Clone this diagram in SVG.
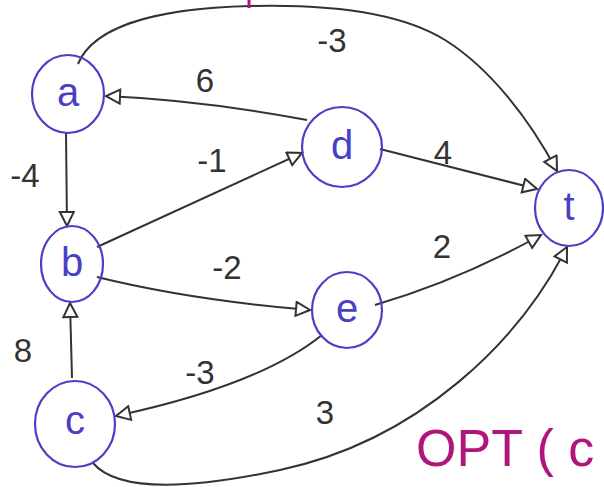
<svg xmlns="http://www.w3.org/2000/svg" width="604" height="487" viewBox="0 0 604 487">
<style>
.node ellipse{fill:none;stroke:#4b3fc4;stroke-width:2.2}
.node text{font-family:"Liberation Sans",sans-serif;font-size:40px;fill:#4b3fc4;text-anchor:middle;dominant-baseline:central}
.edge{fill:none;stroke:#333;stroke-width:2;marker-end:url(#arr)}
.lbl{font-family:"Liberation Sans",sans-serif;font-size:33px;fill:#333;text-anchor:middle;dominant-baseline:central}
.mag{font-family:"Liberation Sans",sans-serif;font-size:52px;fill:#b0157c}
</style>
<defs>
<marker id="arr" markerUnits="userSpaceOnUse" markerWidth="20" markerHeight="20" refX="16" refY="8" orient="auto">
<path d="M2,1 L16,8 L2,15 Z" fill="#fff" stroke="#333" stroke-width="2"/>
</marker>
</defs>
<rect width="604" height="487" fill="#fff"/>
<g id="connectors">
<path class="edge" d="M66,133 L67,226"/>
<path class="edge" d="M307,120 Q200,100 106,96"/>
<path class="edge" d="M78,64 C95,22 170,8 250,6 S400,12 445,40 S530,120 557,171"/>
<path class="edge" d="M97,247 L302,153"/>
<path class="edge" d="M380,149 L537,189"/>
<path class="edge" d="M97,277 Q190,300 310,310"/>
<path class="edge" d="M375,305 Q460,280 541,235"/>
<path class="edge" d="M322,335 Q260,385 116,416"/>
<path class="edge" d="M72,378 L70,303"/>
<path class="edge" d="M93,463 C120,495 200,487 280,470 C420,440 520,340 567,247"/>
</g>
<g id="labels">
<text class="lbl" x="332" y="40">-3</text>
<text class="lbl" x="205" y="80">6</text>
<text class="lbl" x="212" y="160">-1</text>
<text class="lbl" x="443" y="152">4</text>
<text class="lbl" x="25" y="175">-4</text>
<text class="lbl" x="227" y="267">-2</text>
<text class="lbl" x="442" y="246">2</text>
<text class="lbl" x="23" y="350">8</text>
<text class="lbl" x="200" y="372">-3</text>
<text class="lbl" x="325" y="412">3</text>
</g>
<g id="node-a" class="node"><ellipse cx="68" cy="94" rx="36" ry="39"/><text x="68" y="92">a</text></g>
<g id="node-b" class="node"><ellipse cx="72" cy="264" rx="31" ry="38"/><text x="72" y="262">b</text></g>
<g id="node-c" class="node"><ellipse cx="75" cy="424" rx="40" ry="43"/><text x="75" y="420">c</text></g>
<g id="node-d" class="node"><ellipse cx="342" cy="147" rx="40" ry="40"/><text x="342" y="145">d</text></g>
<g id="node-e" class="node"><ellipse cx="347" cy="310" rx="35" ry="38"/><text x="347" y="308">e</text></g>
<g id="node-t" class="node"><ellipse cx="569" cy="208" rx="34" ry="38"/><text x="569" y="206">t</text></g>
<line x1="249" y1="0" x2="249" y2="8" stroke="#b0157c" stroke-width="3"/>
<text class="mag" x="416" y="466">OPT ( c</text>
</svg>
